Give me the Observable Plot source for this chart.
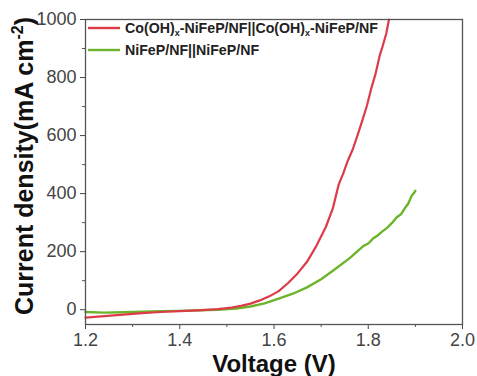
<!DOCTYPE html>
<html>
<head>
<meta charset="utf-8">
<script src="https://cdn.jsdelivr.net/npm/d3@7"></script>
<script src="https://cdn.jsdelivr.net/npm/@observablehq/plot@0.6"></script>
<style>
  #chart svg { font-family: 'Liberation Sans', Arial, sans-serif; font-size: 18px; color: #444; }
</style>
</head>
<body style="margin:0;background:#fff">
<div id="chart"></div>
<script>
const seriesNames = ["Co(OH)x-NiFeP/NF||Co(OH)x-NiFeP/NF", "NiFeP/NF||NiFeP/NF"];
const seriesColors = ["#dc3c48", "#6cb42a"];

const voltageRed = [1.20, 1.24, 1.28, 1.32, 1.36, 1.40, 1.44, 1.48, 1.51, 1.53, 1.55, 1.57, 1.59, 1.61, 1.63, 1.65, 1.67, 1.69, 1.71, 1.725, 1.737, 1.747, 1.757, 1.767, 1.777, 1.787, 1.797, 1.806, 1.815, 1.825, 1.83, 1.838, 1.844];
const currentRed = [-27, -22, -17, -12, -8, -5, -2, 2, 7, 13, 21, 32, 46, 64, 92, 125, 165, 220, 285, 350, 430, 470, 515, 552, 600, 650, 702, 760, 810, 880, 905, 950, 1000];

const voltageGreen = [1.20, 1.24, 1.28, 1.32, 1.36, 1.40, 1.44, 1.48, 1.52, 1.55, 1.58, 1.61, 1.64, 1.67, 1.70, 1.73, 1.76, 1.79, 1.80, 1.81, 1.82, 1.83, 1.84, 1.85, 1.86, 1.87, 1.88, 1.885, 1.89, 1.893, 1.897, 1.9];
const currentGreen = [-8, -10, -9, -7, -5, -4, -2, 0, 4, 11, 22, 38, 55, 77, 105, 140, 177, 220, 228, 245, 256, 270, 282, 298, 318, 330, 355, 366, 385, 395, 402, 410];

const xTicks = [1.2, 1.4, 1.6, 1.8, 2.0];
const xMinorTicks = [1.3, 1.5, 1.7, 1.9];
const yTicks = [0, 200, 400, 600, 800, 1000];
const yMinorTicks = [100, 300, 500, 700, 900];
const xDomain = [1.2, 2.0];
const yDomain = [-51, 1000];

const red = voltageRed.map((v, i) => ({v, j: currentRed[i]}));
const green = voltageGreen.map((v, i) => ({v, j: currentGreen[i]}));

const W = 477, H = 376, mL = 85, mR = 15, mT = 19, mB = 52;
// minor tick length (3px) expressed in data units
const xMinorLen = (xDomain[1] - xDomain[0]) * 3 / (W - mL - mR);
const yMinorLen = (yDomain[1] - yDomain[0]) * 3 / (H - mT - mB);

const font = "'Liberation Sans', Arial, sans-serif";
const plot = Plot.plot({
  width: W,
  height: H,
  marginLeft: mL,
  marginRight: mR,
  marginTop: mT,
  marginBottom: mB,
  x: {domain: xDomain, ticks: xTicks, tickFormat: d3.format(".1f"), tickSize: 5, label: null},
  y: {domain: yDomain, ticks: yTicks, tickFormat: d3.format("d"), tickSize: 5, label: null},
  marks: [
    Plot.ruleX(xMinorTicks, {y1: yDomain[0], y2: yDomain[0] - yMinorLen, stroke: "#555"}),
    Plot.ruleY(yMinorTicks, {x1: xDomain[0], x2: xDomain[0] - xMinorLen, stroke: "#555"}),
    Plot.line(green, {x: "v", y: "j", stroke: seriesColors[1], strokeWidth: 2.4}),
    Plot.line(red, {x: "v", y: "j", stroke: seriesColors[0], strokeWidth: 2.2}),
    Plot.frame({stroke: "#555", strokeWidth: 1.3})
  ]
});
document.getElementById("chart").appendChild(plot);

const svg = d3.select(plot);

// x label
svg.append("text")
  .attr("x", 274).attr("y", 372)
  .attr("text-anchor", "middle")
  .attr("font-family", font).attr("font-weight", "bold").attr("font-size", 24)
  .attr("fill", "#111")
  .text("Voltage (V)");

// y label
const yl = svg.append("text")
  .attr("transform", "translate(33,166) rotate(-90)")
  .attr("text-anchor", "middle")
  .attr("font-family", font).attr("font-weight", "bold").attr("font-size", 25)
  .attr("fill", "#111");
yl.append("tspan").text("Current density(mA cm");
yl.append("tspan").attr("font-size", 16).attr("dy", -10).text("-2");
yl.append("tspan").attr("dy", 10).text(")");

// legend
const legY = [28, 50];
legY.forEach((y, i) => {
  svg.append("line")
    .attr("x1", 88).attr("x2", 120).attr("y1", y).attr("y2", y)
    .attr("stroke", seriesColors[i]).attr("stroke-width", 2.4);
  const t = svg.append("text")
    .attr("x", 125).attr("y", y + 5)
    .attr("text-anchor", "start")
    .attr("font-family", font).attr("font-weight", "bold").attr("font-size", 14.2)
    .attr("fill", "#222");
  const parts = seriesNames[i].split("x-");
  if (parts.length > 1) {
    parts.forEach((p, k) => {
      t.append("tspan").text(p);
      if (k < parts.length - 1) {
        t.append("tspan").attr("font-size", 9).attr("dy", 3).text("x");
        t.append("tspan").attr("dy", -3).text("-");
      }
    });
  } else {
    t.text(seriesNames[i]);
  }
});
</script>
</body>
</html>
